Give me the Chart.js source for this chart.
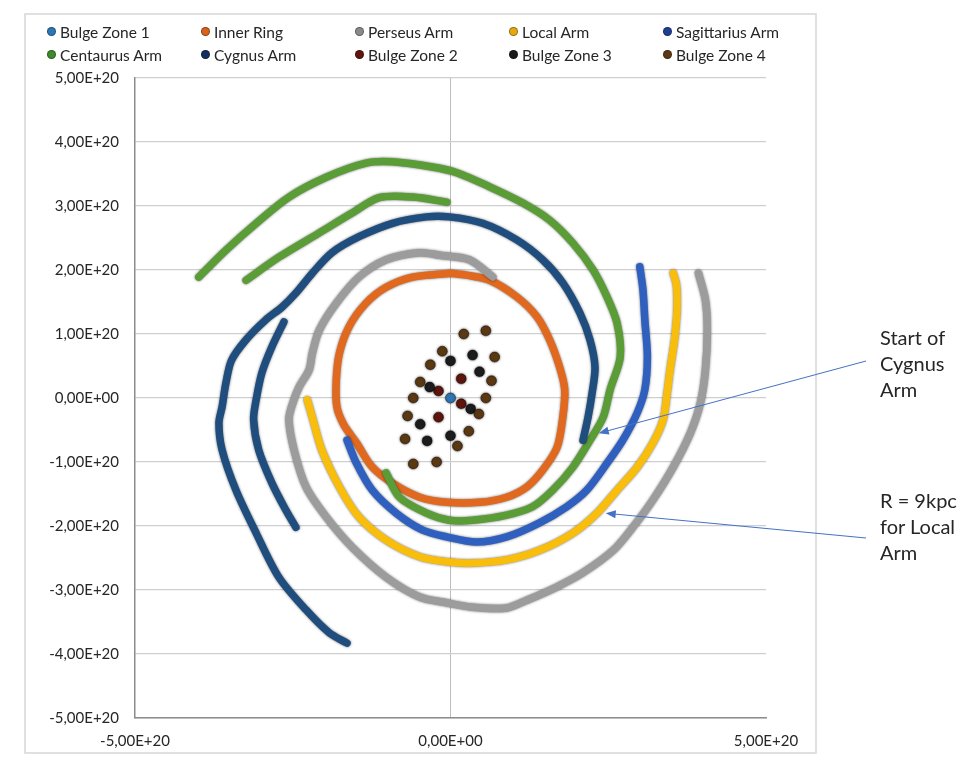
<!DOCTYPE html>
<html><head><meta charset="utf-8">
<script src="https://cdn.jsdelivr.net/npm/chart.js@4.4.1/dist/chart.umd.min.js"></script>
<style>
html,body{margin:0;padding:0;background:#fff;}
#wrap{position:relative;width:969px;height:763px;overflow:hidden;font-family:Lato,sans-serif;}
canvas{position:absolute;left:0;top:0;}
#legend{position:absolute;left:47px;top:20px;display:grid;grid-template-columns:repeat(5,154px);grid-auto-rows:23px;font-size:15.5px;color:#262626;}
.li{display:flex;align-items:center;white-space:nowrap;}
.dot{width:9px;height:9px;border-radius:50%;margin-right:4px;box-sizing:border-box;border:1px solid rgba(0,0,0,0.35);}
.note{position:absolute;left:880px;font-size:20px;line-height:26px;color:#262626;}
</style></head>
<body>
<div id="wrap">
<canvas id="c" width="969" height="763"></canvas>
<div id="legend"></div>
<div class="note" style="top:324px">Start of<br>Cygnus<br>Arm</div>
<div class="note" style="top:487px">R = 9kpc<br>for Local<br>Arm</div>
</div>
<script>
// Values in units of 1E+20
const seriesNames = ['Bulge Zone 1','Inner Ring','Perseus Arm','Local Arm','Sagittarius Arm','Centaurus Arm','Cygnus Arm','Bulge Zone 2','Bulge Zone 3','Bulge Zone 4'];

const bulge1X = [0];
const bulge1Y = [0];

const innerX = [0,-0.60,-1.02,-1.34,-1.61,-1.76,-1.81,-1.80,-1.69,-1.49,-1.24,-0.92,-0.49,-0.06,0.46,0.89,1.21,1.46,1.69,1.78,1.81,1.73,1.57,1.37,1.05,0.62,0.25,0];
const innerY = [1.95,1.89,1.73,1.48,1.11,0.70,0.28,-0.14,-0.42,-0.70,-1.08,-1.33,-1.55,-1.63,-1.63,-1.55,-1.39,-1.13,-0.77,-0.30,0.13,0.48,0.91,1.27,1.58,1.84,1.92,1.95];

const perseusX = [0.67,0.30,-0.17,-0.49,-1.02,-1.45,-1.81,-2.08,-2.19,-2.24,-2.40,-2.51,-2.56,-2.48,-2.29,-1.97,-1.56,-1.02,-0.49,-0.06,0.35,0.89,1.21,1.69,2.10,2.58,2.89,3.21,3.53,3.80,3.96,4.04,4.07,4.04,3.93];
const perseusY = [1.89,2.16,2.23,2.27,2.16,1.89,1.48,1.06,0.70,0.44,0.17,-0.11,-0.34,-0.81,-1.39,-1.86,-2.33,-2.80,-3.11,-3.20,-3.27,-3.28,-3.16,-2.95,-2.73,-2.38,-2.02,-1.59,-1.08,-0.55,-0.08,0.44,1.06,1.53,1.95];

const localX = [-2.27,-2.19,-2.04,-1.76,-1.45,-1.02,-0.49,-0.06,0.35,0.89,1.41,1.94,2.32,2.64,2.96,3.21,3.37,3.43,3.48,3.55,3.59,3.58,3.53];
const localY = [-0.03,-0.30,-0.81,-1.39,-1.86,-2.22,-2.48,-2.56,-2.58,-2.53,-2.38,-2.11,-1.80,-1.44,-1.08,-0.70,-0.34,0.05,0.44,0.91,1.38,1.77,1.95];

const sagX = [-1.64,-1.49,-1.24,-0.86,-0.45,-0.06,0.41,0.89,1.41,1.84,2.16,2.48,2.73,2.96,3.08,3.12,3.08,3.05,3.00];
const sagY = [-0.66,-1.02,-1.44,-1.80,-2.06,-2.17,-2.25,-2.17,-1.95,-1.70,-1.44,-1.02,-0.66,-0.23,0.13,0.64,1.22,1.69,2.05];

// null = gap between the two drawn pieces
const centX = [-1.02,-0.81,-0.38,-0.02,0.35,0.89,1.30,1.62,1.94,2.21,2.42,2.53,2.69,2.64,2.48,2.26,1.94,1.57,1.14,0.62,0.10,-0.29,-0.92,-1.34,-1.97,-2.56,-3.08,-3.56,-3.99,
  null,-0.06,-0.60,-1.13,-1.56,-2.08,-2.72,-3.24];
const centY = [-1.17,-1.55,-1.80,-1.91,-1.91,-1.83,-1.70,-1.44,-1.08,-0.66,-0.30,0.13,0.64,1.17,1.58,2.00,2.42,2.78,3.05,3.30,3.52,3.61,3.69,3.67,3.45,3.14,2.73,2.31,1.89,
  null,3.06,3.14,3.13,2.89,2.58,2.20,1.84];

const cygX = [2.10,2.18,2.24,2.29,2.21,2.05,1.78,1.46,1.05,0.51,-0.02,-0.38,-0.92,-1.45,-1.88,-2.19,-2.45,-2.67,-2.93,-3.24,-3.47,-3.56,-3.62,-3.67,-3.62,-3.40,-3.08,-2.72,-2.29,-1.92,-1.64,
  null,-2.64,-2.83,-2.99,-3.08,-3.12,-3.04,-2.83,-2.61,-2.45];
const cygY = [-0.66,-0.30,0.05,0.48,0.91,1.33,1.80,2.16,2.47,2.73,2.83,2.83,2.73,2.52,2.27,1.95,1.64,1.42,1.22,0.91,0.59,0.23,-0.14,-0.39,-0.81,-1.44,-2.11,-2.80,-3.31,-3.67,-3.83,
  null,1.19,0.80,0.39,-0.03,-0.34,-0.81,-1.33,-1.75,-2.02];

const bulge2X = [0.17,-0.19,0.17,-0.19];
const bulge2Y = [0.30,0.11,-0.09,-0.30];

const bulge3X = [0,0.35,0.46,-0.33,0.32,-0.48,-0.37,0];
const bulge3Y = [0.58,0.67,0.41,0.17,-0.17,-0.41,-0.67,-0.59];

const bulge4X = [0.21,0.56,-0.13,0.70,-0.32,0.65,-0.48,-0.59,0.56,0.45,-0.68,0.29,-0.72,0.11,-0.59,-0.22];
const bulge4Y = [1.00,1.05,0.73,0.64,0.52,0.27,0.25,0,0,-0.25,-0.28,-0.52,-0.64,-0.75,-1.03,-1.00];

const xTicks = [-5,0,5];
const yTicks = [-5,-4,-3,-2,-1,0,1,2,3,4,5];

// annotation arrow targets (data units)
const cygStartTip = [2.35,-0.55];
const localTip = [2.46,-1.80];

const colors = ['#2e75b6','#e0691f','#9c9c9c','#f9bd0b','#2f60c0','#5a9c35','#1f4d7e','#5e150c','#1c1c1c','#5b3912'];
const legendColors = ['#2e75b6','#d9611a','#8a8a8a','#e5a812','#203f94','#3f8a2a','#142f5e','#5e150c','#1c1c1c','#5b3912'];

function pts(xs, ys){ return xs.map((x,i)=> (x===null||ys[i]===null) ? {x:NaN,y:NaN} : {x:x, y:ys[i]}); }

const seriesData = [pts(bulge1X,bulge1Y),pts(innerX,innerY),pts(perseusX,perseusY),pts(localX,localY),pts(sagX,sagY),
  pts(centX,centY),pts(cygX,cygY),pts(bulge2X,bulge2Y),pts(bulge3X,bulge3Y),pts(bulge4X,bulge4Y)];
const isLine = [false,true,true,true,true,true,true,false,false,false];

const N = seriesNames.length;
const datasets = seriesNames.map((n,i)=>({
  label:n,
  data:seriesData[i],
  showLine:isLine[i],
  borderColor:isLine[i]?colors[i]:'rgba(0,0,0,0.45)',
  backgroundColor:colors[i],
  borderWidth:isLine[i]?7.5:1,
  pointRadius:isLine[i]?0:5,
  pointBorderColor:'rgba(0,0,0,0.4)',
  pointBorderWidth:1,
  tension:0.3,
  borderCapStyle:'round',
  borderJoinStyle:'round',
  spanGaps:false,
  order:N-i
}));

Chart.defaults.font.family = 'Lato, sans-serif';
Chart.defaults.color = '#262626';

const framePlugin = {
  id:'frame',
  beforeDraw(chart){
    const ctx=chart.ctx; ctx.save();
    ctx.fillStyle='#fff'; ctx.fillRect(0,0,chart.width,chart.height);
    ctx.strokeStyle='#d6d6d6'; ctx.lineWidth=1.5;
    ctx.strokeRect(25,14,791,739);
    ctx.restore();
  },
  beforeDatasetDraw(chart,args){
    const ctx=chart.ctx; ctx.save();
    ctx.shadowColor='rgba(0,0,0,0.6)'; ctx.shadowBlur=2.5;
  },
  afterDatasetDraw(chart){ chart.ctx.restore(); },
  afterDraw(chart){
    const ctx=chart.ctx, xs=chart.scales.x, ys=chart.scales.y;
    const arrows=[[866,361,cygStartTip],[866,538,localTip]];
    ctx.save();
    ctx.strokeStyle='#4472c4'; ctx.fillStyle='#4472c4'; ctx.lineWidth=1;
    arrows.forEach(([sx,sy,t])=>{
      const tx=xs.getPixelForValue(t[0]), ty=ys.getPixelForValue(t[1]);
      const a=Math.atan2(ty-sy,tx-sx);
      ctx.beginPath(); ctx.moveTo(sx,sy); ctx.lineTo(tx-Math.cos(a)*6,ty-Math.sin(a)*6); ctx.stroke();
      ctx.beginPath(); ctx.moveTo(tx,ty);
      ctx.lineTo(tx-Math.cos(a)*10+Math.sin(a)*4, ty-Math.sin(a)*10-Math.cos(a)*4);
      ctx.lineTo(tx-Math.cos(a)*10-Math.sin(a)*4, ty-Math.sin(a)*10+Math.cos(a)*4);
      ctx.closePath(); ctx.fill();
    });
    ctx.restore();
  }
};

function fmt(v){ return v===0 ? '0,00E+00' : v.toFixed(2).replace('.',',')+'E+20'; }

const chart = new Chart(document.getElementById('c'),{
  type:'scatter',
  data:{datasets},
  plugins:[framePlugin],
  options:{
    responsive:false,animation:false,
    devicePixelRatio:1,
    layout:{padding:{top:78,right:203,bottom:15,left:0}},
    plugins:{legend:{display:false},tooltip:{enabled:false}},
    scales:{
      x:{type:'linear',min:-5,max:5,
        afterBuildTicks(s){ s.ticks = xTicks.map(v=>({value:v})); },
        afterFit(s){ s.height=30; },
        ticks:{callback:fmt,font:{size:15},color:'#262626',padding:14,maxRotation:0},
        grid:{drawTicks:false,color:(c)=> c.tick && c.tick.value===0 ? '#bdbdbd' : 'rgba(0,0,0,0)',lineWidth:1},
        border:{display:true,color:'#8c8c8c',width:1.5}
      },
      y:{type:'linear',min:-5,max:5,
        afterBuildTicks(s){ s.ticks = yTicks.map(v=>({value:v})); },
        afterFit(s){ s.width=135; },
        ticks:{callback:fmt,font:{size:15},color:'#262626',padding:16},
        grid:{drawTicks:false,color:'#cfcfcf',lineWidth:1.2},
        border:{display:true,color:'#8c8c8c',width:1.5}
      }
    }
  }
});

const lg=document.getElementById('legend');
seriesNames.forEach((n,i)=>{
  const d=document.createElement('div'); d.className='li';
  const dot=document.createElement('span'); dot.className='dot'; dot.style.background=legendColors[i];
  const t=document.createElement('span'); t.textContent=n;
  d.appendChild(dot); d.appendChild(t); lg.appendChild(d);
});
</script>
</body></html>
